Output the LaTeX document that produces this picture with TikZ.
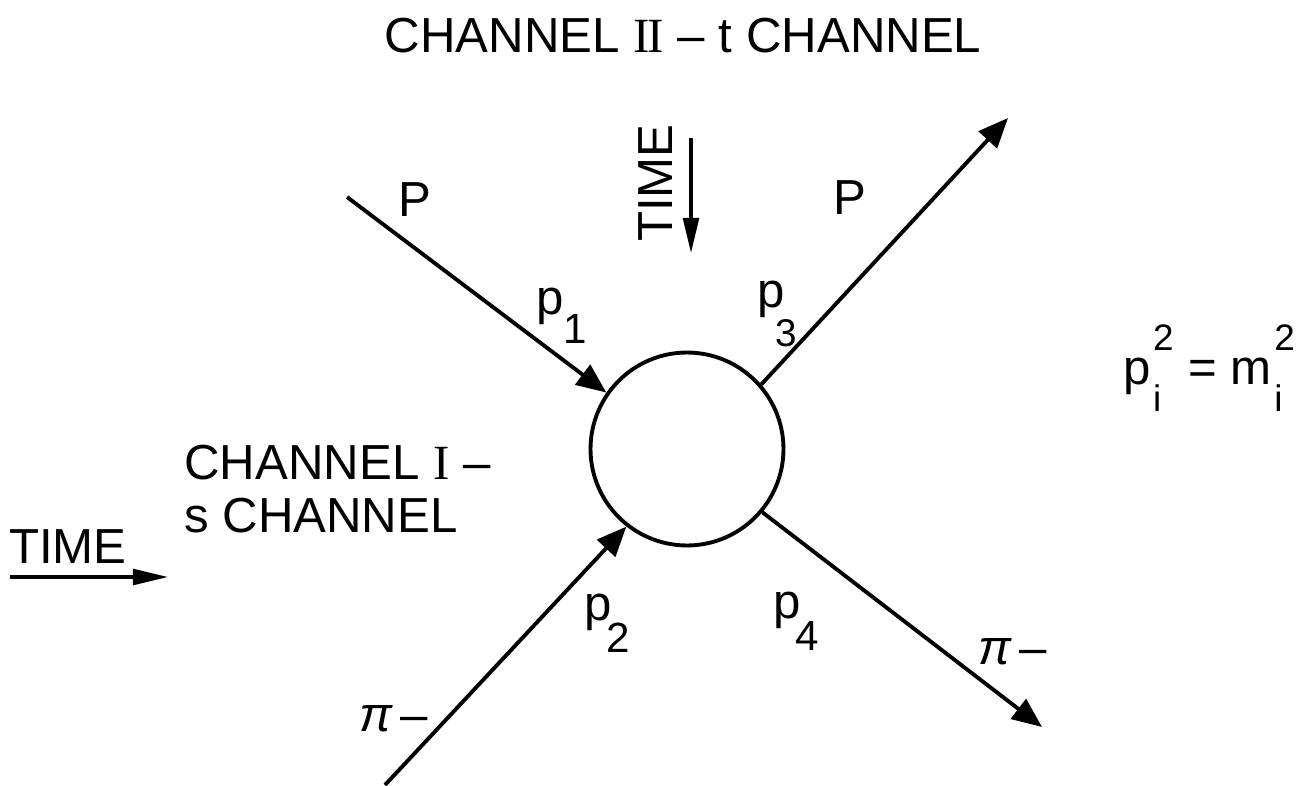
\documentclass[tikz,border=0pt]{standalone}
\usepackage{fontspec}
\setmainfont{Liberation Sans}
\newfontfamily\romfont{Liberation Serif}
\usetikzlibrary{arrows.meta}

\begin{document}
\begin{tikzpicture}[x=0.02cm,y=-0.02cm,>={Triangle[length=17pt,width=14pt]},
    lbl/.style={font=\fontsize{28}{32}\selectfont,inner sep=0pt},
    leg/.style={line width=2.2pt},
    timearrow/.style={line width=1.8pt,-{Triangle[length=20pt,width=9pt]}}]
    \useasboundingbox (0,0) rectangle (1316,785);

    % Draw the scattering blob
    \node[circle,draw,line width=2.2pt,minimum size=3.86cm,inner sep=0pt] (blob) at (687,449) {};

    % Draw the four legs
    \coordinate (pin) at (347,197);
    \coordinate (piin) at (385,785);
    \coordinate (pout) at (1008,118);
    \coordinate (piout) at (1042,727);
    \draw[leg,->] (pin) -- (blob.145);
    \draw[leg,->] (piin) -- (blob.232);
    \draw[leg,->] (blob.41) -- (pout);
    \draw[leg,->] (blob.320) -- (piout);

    % Particle and momentum labels
    \node[lbl] (pleft) at (415,200) {P};
    \node[lbl] (pright) at (850,198) {P};
    \node[lbl] (piminl) at (394,719) {{\itshape π}\,--};
    \node[lbl] (piminr) at (1013,652) {{\itshape π}\,--};
    \node[lbl] (mom1) at (562,316) {p\raisebox{-0.6em}{\fontsize{24}{24}\selectfont 1}};
    \node[lbl] (mom3) at (777,314) {p\kern-0.2em\raisebox{-0.8em}{\fontsize{22}{22}\selectfont 3}};
    \node[lbl] (mom2) at (607,623) {p\kern-0.1em\raisebox{-0.65em}{\fontsize{24}{24}\selectfont 2}};
    \node[lbl] (mom4) at (796,621) {p\kern-0.1em\raisebox{-0.65em}{\fontsize{24}{24}\selectfont 4}};

    % Mass shell condition
    \node[lbl,anchor=west] (shell) at (1123,368) {p\kern0.05em\rlap{\raisebox{0.7em}{\fontsize{21}{22}\selectfont 2}}\raisebox{-0.55em}{\fontsize{21}{22}\selectfont i}\hspace{0.55em}= m\kern0.05em\rlap{\raisebox{0.7em}{\fontsize{21}{22}\selectfont 2}}\raisebox{-0.55em}{\fontsize{21}{22}\selectfont i}};

    % Channel titles
    \node[lbl] (chan2) at (683,36) {CHANNEL {\romfont I\kern-0.04em I} -- t CHANNEL};
    \node[lbl,anchor=west,align=left] (chan1) at (184,489) {CHANNEL {\romfont I} --\\[-2pt] s CHANNEL};

    % Time directions
    \node[lbl,rotate=90] (timet) at (656,183) {TIME};
    \coordinate (tt0) at (691,138);
    \coordinate (tt1) at (691,253);
    \draw[timearrow] (tt0) -- (tt1);
    \node[lbl] (times) at (68,547) {TIME};
    \coordinate (ts0) at (10,577);
    \coordinate (ts1) at (168,577);
    \draw[timearrow] (ts0) -- (ts1);
\end{tikzpicture}
\end{document}
